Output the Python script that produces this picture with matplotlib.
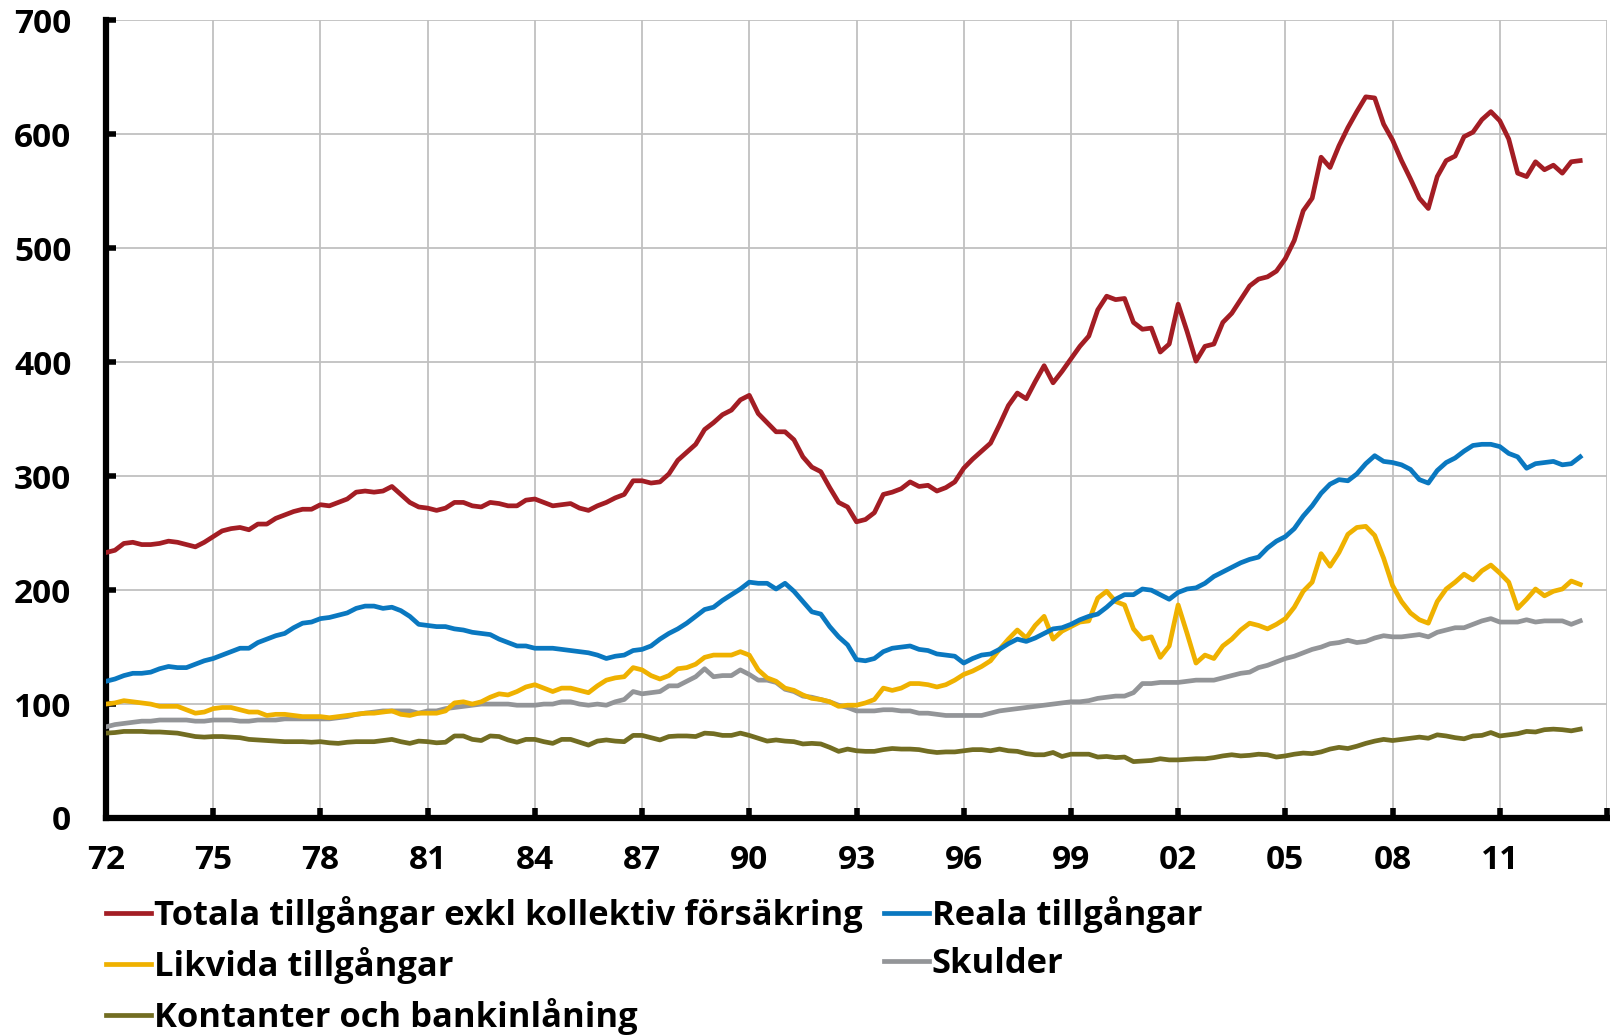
import numpy as np
import pandas as pd
import matplotlib
matplotlib.use('Agg')
import matplotlib.pyplot as plt

plt.rcParams['font.family'] = ['Open Sans', 'DejaVu Sans']
plt.rcParams['font.weight'] = 'bold'

# Kvartalsdata 1972K1 - 2013K2, procent av disponibel inkomst
kvartal = pd.period_range('1972Q1', '2013Q2', freq='Q')

totala = [
    233, 235, 241, 242,  240, 240, 241, 243,  242, 240, 238, 242,
    247, 252, 254, 255,  253, 258, 258, 263,  266, 269, 271, 271,
    275, 274, 277, 280,  286, 287, 286, 287,  291, 284, 277, 273,
    272, 270, 272, 277,  277, 274, 273, 277,  276, 274, 274, 279,
    280, 277, 274, 275,  276, 272, 270, 274,  277, 281, 284, 296,
    296, 294, 295, 302,  314, 321, 328, 341,  347, 354, 358, 367,
    371, 355, 347, 339,  339, 332, 317, 308,  304, 290, 277, 273,
    260, 262, 268, 284,  286, 289, 295, 291,  292, 287, 290, 295,
    307, 315, 322, 329,  345, 362, 373, 368,  383, 397, 382, 392,
    403, 414, 423, 446,  458, 455, 456, 435,  429, 430, 409, 416,
    451, 427, 401, 414,  416, 435, 443, 455,  467, 473, 475, 480,
    491, 507, 533, 544,  580, 571, 590, 606,  620, 633, 632, 609,
    595, 577, 561, 544,  535, 563, 577, 581,  598, 602, 613, 620,
    612, 596, 566, 563,  576, 569, 573, 566,  576, 577]

reala = [
    120, 122, 125, 127,  127, 128, 131, 133,  132, 132, 135, 138,
    140, 143, 146, 149,  149, 154, 157, 160,  162, 167, 171, 172,
    175, 176, 178, 180,  184, 186, 186, 184,  185, 182, 177, 170,
    169, 168, 168, 166,  165, 163, 162, 161,  157, 154, 151, 151,
    149, 149, 149, 148,  147, 146, 145, 143,  140, 142, 143, 147,
    148, 151, 157, 162,  166, 171, 177, 183,  185, 191, 196, 201,
    207, 206, 206, 201,  206, 199, 190, 181,  179, 168, 159, 152,
    139, 138, 140, 146,  149, 150, 151, 148,  147, 144, 143, 142,
    136, 140, 143, 144,  148, 153, 157, 155,  158, 162, 166, 167,
    170, 174, 177, 179,  185, 192, 196, 196,  201, 200, 196, 192,
    198, 201, 202, 206,  212, 216, 220, 224,  227, 229, 237, 243,
    247, 254, 265, 274,  285, 293, 297, 296,  302, 311, 318, 313,
    312, 310, 306, 297,  294, 305, 312, 316,  322, 327, 328, 328,
    326, 320, 317, 307,  311, 312, 313, 310,  311, 317]

likvida = [
    100, 101, 103, 102,  101, 100, 98, 98,  98, 95, 92, 93,
    96, 97, 97, 95,  93, 93, 90, 91,  91, 90, 89, 89,
    89, 88, 89, 90,  91, 92, 92, 93,  94, 91, 90, 92,
    92, 92, 94, 101,  102, 100, 102, 106,  109, 108, 111, 115,
    117, 114, 111, 114,  114, 112, 110, 116,  121, 123, 124, 132,
    130, 125, 122, 125,  131, 132, 135, 141,  143, 143, 143, 146,
    143, 130, 123, 120,  114, 112, 108, 105,  104, 102, 98, 99,
    99, 101, 104, 114,  112, 114, 118, 118,  117, 115, 117, 121,
    126, 129, 133, 138,  148, 157, 165, 158,  169, 177, 157, 164,
    168, 172, 173, 193,  199, 190, 187, 166,  157, 159, 141, 151,
    187, 162, 136, 143,  140, 151, 157, 165,  171, 169, 166, 170,
    175, 185, 199, 207,  232, 221, 233, 249,  255, 256, 248, 228,
    204, 190, 180, 174,  171, 190, 201, 207,  214, 209, 217, 222,
    215, 207, 184, 192,  201, 195, 199, 201,  208, 205]

skulder = [
    80, 82, 83, 84,  85, 85, 86, 86,  86, 86, 85, 85,
    86, 86, 86, 85,  85, 86, 86, 86,  87, 87, 87, 87,
    87, 87, 88, 89,  91, 92, 93, 94,  94, 94, 94, 92,
    94, 94, 96, 97,  98, 99, 100, 100,  100, 100, 99, 99,
    99, 100, 100, 102,  102, 100, 99, 100,  99, 102, 104, 111,
    109, 110, 111, 116,  116, 120, 124, 131,  124, 125, 125, 130,
    126, 121, 121, 119,  113, 111, 107, 106,  104, 102, 99, 97,
    94, 94, 94, 95,  95, 94, 94, 92,  92, 91, 90, 90,
    90, 90, 90, 92,  94, 95, 96, 97,  98, 99, 100, 101,
    102, 102, 103, 105,  106, 107, 107, 110,  118, 118, 119, 119,
    119, 120, 121, 121,  121, 123, 125, 127,  128, 132, 134, 137,
    140, 142, 145, 148,  150, 153, 154, 156,  154, 155, 158, 160,
    159, 159, 160, 161,  159, 163, 165, 167,  167, 170, 173, 175,
    172, 172, 172, 174,  172, 173, 173, 173,  170, 173]

kontanter = [
    74.5, 75, 76, 76,  76, 75.5, 75.5, 75,  74.5, 73, 71.5, 71,
    71.5, 71.5, 71, 70.5,  69, 68.5, 68, 67.5,  67, 67, 67, 66.5,
    67, 66, 65.5, 66.5,  67, 67, 67, 68,  69, 67, 65.5, 67.5,
    67, 66, 66.5, 72,  72, 69, 68, 72,  71.5, 68.5, 66.5, 69,
    69, 67, 65.5, 69,  69, 66.5, 64, 67.5,  68.5, 67.5, 67, 72.5,
    72.5, 70.5, 68.5, 71.5,  72, 72, 71.5, 74.5,  74, 72.5, 72.5, 74.5,
    72.5, 70, 67.5, 68.5,  67.5, 67, 65, 65.5,  65, 62, 58.5, 60.5,
    59, 58.5, 58.5, 60,  61, 60.5, 60.5, 60,  58.5, 57.5, 58, 58,
    59, 60, 60, 59,  60.5, 59, 58.5, 56.5,  55.5, 55.5, 57.5, 54,
    56, 56, 56, 53.5,  54, 53, 53.5, 49.5,  50, 50.5, 52, 51,
    51, 51.5, 52, 52,  53, 54.5, 55.5, 54.5,  55, 56, 55.5, 53.5,
    54.5, 56, 57, 56.5,  58, 60.5, 62, 61,  63, 65.5, 67.5, 69,
    68, 69, 70, 71,  70, 73, 72, 70.5,  69.5, 72, 72.5, 75,
    72, 73, 74, 76,  75.5, 77.5, 78, 77.5,  76.5, 78]

serier = [
    ('Totala tillgångar exkl kollektiv försäkring', totala, '#A31D24'),
    ('Likvida tillgångar', likvida, '#EFB100'),
    ('Kontanter och bankinlåning', kontanter, '#726D22'),
    ('Reala tillgångar', reala, '#0A78C0'),
    ('Skulder', skulder, '#939598'),
]
# ordning i diagrammet (den som ritas sist hamnar överst)
ritordning = [4, 2, 1, 3, 0]

ar_ticks = list(range(1972, 2015, 3))
ar_etiketter = ['%02d' % (a % 100) for a in ar_ticks[:-1]] + ['']

x = kvartal.year + (kvartal.quarter - 1) / 4

fig = plt.figure(figsize=(16.1, 10.36), dpi=100)
ax = fig.add_axes([106 / 1610, 1 - 818 / 1036, 1501 / 1610, 797.5 / 1036])

linjer = {}
for i in ritordning:
    namn, varden, farg = serier[i]
    linjer[i], = ax.plot(x, varden, color=farg, lw=3.4, label=namn,
                         solid_joinstyle='round', zorder=3)

ax.set_xlim(1972, 2014)
ax.set_ylim(0, 700)
ax.set_xticks(ar_ticks)
ax.set_xticklabels(ar_etiketter)
ax.set_yticks(range(0, 701, 100))

ax.grid(True, color='#C0C0C0', lw=1.3)
ax.set_axisbelow(True)
for s in ['top', 'right']:
    ax.spines[s].set_visible(False)
for s in ['left', 'bottom']:
    ax.spines[s].set_linewidth(4.5)
    ax.spines[s].set_color('black')

ax.tick_params(axis='both', direction='in', length=7, width=4, colors='black',
               labelsize=24)
ax.tick_params(axis='x', pad=19)
ax.tick_params(axis='y', pad=25)
for t in ax.get_xticklabels() + ax.get_yticklabels():
    t.set_fontweight('bold')

handtag = [linjer[i] for i in range(5)]
fig.legend(handtag, [s[0] for s in serier], ncol=2, frameon=False,
           loc='upper left', bbox_to_anchor=(106 / 1610, 1 - 896 / 1036),
           prop={'size': 24.8, 'weight': 'bold'}, handlelength=1.32,
           handletextpad=0.07, columnspacing=0.62, labelspacing=0.4,
           borderpad=0, borderaxespad=0)

fig.savefig('out.png', dpi=100)
